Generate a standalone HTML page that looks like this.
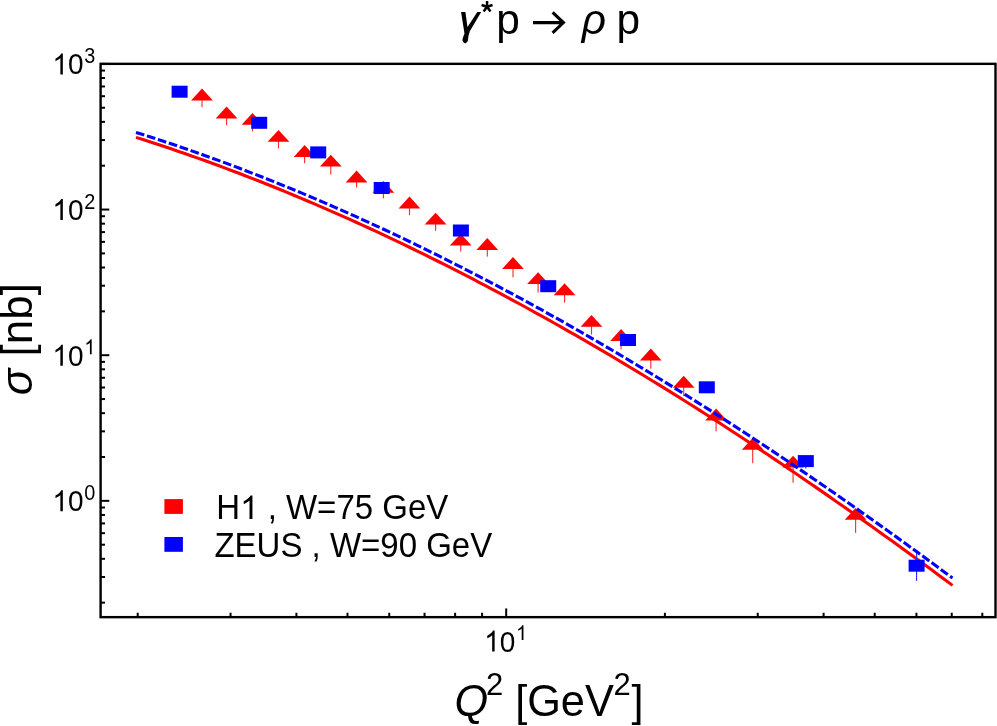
<!DOCTYPE html>
<html><head><meta charset="utf-8"><title>gamma* p -> rho p</title>
<style>html,body{margin:0;padding:0;background:#fff;}body{width:997px;height:726px;overflow:hidden;font-family:"Liberation Sans",sans-serif;}svg{display:block;will-change:transform}text{white-space:pre}</style>
</head><body>
<svg width="997" height="726" viewBox="0 0 997 726">
<rect width="997" height="726" fill="#fff"/>
<g fill="#ff0000" stroke="none">
<rect x="201.42" y="99.40" width="1.15" height="7.70" fill="#ff3030"/>
<path d="M202.00 88.50L212.90 100.40H191.10Z"/>
<rect x="226.02" y="117.50" width="1.15" height="7.70" fill="#ff3030"/>
<path d="M226.60 106.60L237.50 118.50H215.70Z"/>
<rect x="251.92" y="123.80" width="1.15" height="7.70" fill="#ff3030"/>
<path d="M252.50 112.90L263.40 124.80H241.60Z"/>
<rect x="277.92" y="140.80" width="1.15" height="7.70" fill="#ff3030"/>
<path d="M278.50 129.90L289.40 141.80H267.60Z"/>
<rect x="304.02" y="155.90" width="1.15" height="7.40" fill="#ff3030"/>
<path d="M304.60 145.00L315.50 156.90H293.70Z"/>
<rect x="330.22" y="165.60" width="1.15" height="8.90" fill="#ff3030"/>
<path d="M330.80 154.70L341.70 166.60H319.90Z"/>
<rect x="356.02" y="181.40" width="1.15" height="6.20" fill="#ff3030"/>
<path d="M356.60 170.50L367.50 182.40H345.70Z"/>
<rect x="382.82" y="191.80" width="1.15" height="6.60" fill="#ff3030"/>
<path d="M383.40 180.90L394.30 192.80H372.50Z"/>
<rect x="408.92" y="207.50" width="1.15" height="7.70" fill="#ff3030"/>
<path d="M409.50 196.60L420.40 208.50H398.60Z"/>
<rect x="435.02" y="223.60" width="1.15" height="7.20" fill="#ff3030"/>
<path d="M435.60 212.70L446.50 224.60H424.70Z"/>
<rect x="460.12" y="244.60" width="1.15" height="7.00" fill="#ff3030"/>
<path d="M460.70 233.70L471.60 245.60H449.80Z"/>
<rect x="486.72" y="248.90" width="1.15" height="7.70" fill="#ff3030"/>
<path d="M487.30 238.00L498.20 249.90H476.40Z"/>
<rect x="512.42" y="267.90" width="1.15" height="9.40" fill="#ff3030"/>
<path d="M513.00 257.00L523.90 268.90H502.10Z"/>
<rect x="537.52" y="283.10" width="1.15" height="9.40" fill="#ff3030"/>
<path d="M538.10 272.20L549.00 284.10H527.20Z"/>
<rect x="564.02" y="294.20" width="1.15" height="8.40" fill="#ff3030"/>
<path d="M564.60 283.30L575.50 295.20H553.70Z"/>
<rect x="590.92" y="325.80" width="1.15" height="8.70" fill="#ff3030"/>
<path d="M591.50 314.90L602.40 326.80H580.60Z"/>
<rect x="620.52" y="340.00" width="1.15" height="9.40" fill="#ff3030"/>
<path d="M621.10 329.10L632.00 341.00H610.20Z"/>
<rect x="650.22" y="359.50" width="1.15" height="9.20" fill="#ff3030"/>
<path d="M650.80 348.60L661.70 360.50H639.90Z"/>
<rect x="683.12" y="386.70" width="1.15" height="9.50" fill="#ff3030"/>
<path d="M683.70 375.80L694.60 387.70H672.80Z"/>
<rect x="715.52" y="419.40" width="1.15" height="12.00" fill="#ff3030"/>
<path d="M716.10 408.50L727.00 420.40H705.20Z"/>
<rect x="752.12" y="448.80" width="1.15" height="14.40" fill="#ff3030"/>
<path d="M752.70 437.90L763.60 449.80H741.80Z"/>
<rect x="792.52" y="466.60" width="1.15" height="16.20" fill="#ff3030"/>
<path d="M793.10 455.70L804.00 467.60H782.20Z"/>
<rect x="855.02" y="518.80" width="1.15" height="14.10" fill="#ff3030"/>
<path d="M855.60 507.90L866.50 519.80H844.70Z"/>
</g>
<path d="M136.00 137.36L142.86 139.54L149.72 141.76L156.58 144.00L163.45 146.28L170.31 148.58L177.17 150.92L184.03 153.29L190.89 155.69L197.75 158.11L204.61 160.57L211.47 163.06L218.34 165.58L225.20 168.12L232.06 170.70L238.92 173.31L245.78 175.94L252.64 178.61L259.50 181.30L266.37 184.02L273.23 186.77L280.09 189.55L286.95 192.36L293.81 195.20L300.67 198.07L307.53 200.96L314.39 203.89L321.26 206.84L328.12 209.82L334.98 212.83L341.84 215.86L348.70 218.93L355.56 222.02L362.42 225.14L369.29 228.28L376.15 231.46L383.01 234.66L389.87 237.89L396.73 241.14L403.59 244.42L410.45 247.73L417.32 251.07L424.18 254.43L431.04 257.82L437.90 261.24L444.76 264.68L451.62 268.15L458.48 271.64L465.34 275.16L472.21 278.71L479.07 282.28L485.93 285.88L492.79 289.51L499.65 293.16L506.51 296.83L513.37 300.53L520.24 304.26L527.10 308.01L533.96 311.78L540.82 315.58L547.68 319.41L554.54 323.26L561.40 327.14L568.26 331.04L575.13 334.96L581.99 338.91L588.85 342.88L595.71 346.88L602.57 350.90L609.43 354.94L616.29 359.01L623.16 363.10L630.02 367.22L636.88 371.36L643.74 375.52L650.60 379.71L657.46 383.91L664.32 388.15L671.18 392.40L678.05 396.68L684.91 400.98L691.77 405.30L698.63 409.65L705.49 414.02L712.35 418.41L719.21 422.82L726.08 427.26L732.94 431.71L739.80 436.19L746.66 440.69L753.52 445.22L760.38 449.76L767.24 454.33L774.11 458.91L780.97 463.52L787.83 468.15L794.69 472.80L801.55 477.48L808.41 482.17L815.27 486.88L822.13 491.62L829.00 496.37L835.86 501.15L842.72 505.94L849.58 510.76L856.44 515.60L863.30 520.45L870.16 525.33L877.03 530.23L883.89 535.14L890.75 540.08L897.61 545.03L904.47 550.01L911.33 555.00L918.19 560.02L925.05 565.05L931.92 570.10L938.78 575.17L945.64 580.26L952.50 585.37" fill="none" stroke="#ff0000" stroke-width="3.1"/>
<g fill="#0000ff">
<rect x="805.2" y="466" width="1.15" height="2.6" fill="#3030ff"/>
<rect x="916.0" y="552.7" width="1.15" height="28.2" fill="#3030ff"/>
<rect x="171.60" y="85.70" width="16.0" height="12.0"/>
<rect x="251.20" y="116.80" width="16.0" height="12.0"/>
<rect x="310.20" y="146.40" width="16.0" height="12.0"/>
<rect x="373.70" y="182.00" width="16.0" height="12.0"/>
<rect x="452.90" y="224.50" width="16.0" height="12.0"/>
<rect x="540.20" y="280.20" width="16.0" height="12.0"/>
<rect x="620.00" y="334.00" width="16.0" height="12.0"/>
<rect x="698.80" y="381.30" width="16.0" height="12.0"/>
<rect x="797.80" y="455.10" width="16.0" height="12.0"/>
<rect x="908.60" y="559.70" width="16.0" height="12.0"/>
</g>
<path d="M136.00 132.42L142.86 134.58L149.72 136.78L156.58 139.00L163.45 141.26L170.31 143.54L177.17 145.86L184.03 148.21L190.89 150.59L197.75 152.99L204.61 155.43L211.47 157.90L218.34 160.40L225.20 162.92L232.06 165.48L238.92 168.07L245.78 170.68L252.64 173.33L259.50 176.00L266.37 178.70L273.23 181.43L280.09 184.19L286.95 186.98L293.81 189.80L300.67 192.65L307.53 195.52L314.39 198.43L321.26 201.36L328.12 204.32L334.98 207.31L341.84 210.32L348.70 213.37L355.56 216.44L362.42 219.54L369.29 222.66L376.15 225.82L383.01 229.00L389.87 232.21L396.73 235.44L403.59 238.70L410.45 241.99L417.32 245.31L424.18 248.65L431.04 252.02L437.90 255.42L444.76 258.84L451.62 262.29L458.48 265.76L465.34 269.27L472.21 272.79L479.07 276.34L485.93 279.92L492.79 283.53L499.65 287.16L506.51 290.81L513.37 294.49L520.24 298.20L527.10 301.93L533.96 305.69L540.82 309.47L547.68 313.27L554.54 317.10L561.40 320.96L568.26 324.84L575.13 328.74L581.99 332.67L588.85 336.62L595.71 340.60L602.57 344.60L609.43 348.62L616.29 352.67L623.16 356.74L630.02 360.84L636.88 364.96L643.74 369.10L650.60 373.27L657.46 377.46L664.32 381.67L671.18 385.90L678.05 390.16L684.91 394.44L691.77 398.75L698.63 403.07L705.49 407.42L712.35 411.79L719.21 416.18L726.08 420.60L732.94 425.04L739.80 429.50L746.66 433.98L753.52 438.48L760.38 443.00L767.24 447.55L774.11 452.12L780.97 456.71L787.83 461.32L794.69 465.95L801.55 470.60L808.41 475.27L815.27 479.97L822.13 484.68L829.00 489.42L835.86 494.17L842.72 498.95L849.58 503.74L856.44 508.56L863.30 513.40L870.16 518.25L877.03 523.13L883.89 528.03L890.75 532.94L897.61 537.88L904.47 542.83L911.33 547.81L918.19 552.80L925.05 557.81L931.92 562.85L938.78 567.90L945.64 572.97L952.50 578.05" fill="none" stroke="#0000ff" stroke-width="3.1" stroke-dasharray="8.7 2.8"/>
<g stroke="#000" fill="none">
<rect x="100.6" y="63.85" width="894.9" height="553.3" stroke-width="2.4"/>
<g stroke-width="2.0">
<path d="M100.6 602.65h4.4"/>
<path d="M100.6 577.01h4.4"/>
<path d="M100.6 558.81h4.4"/>
<path d="M100.6 544.70h4.4"/>
<path d="M100.6 533.16h4.4"/>
<path d="M100.6 523.41h4.4"/>
<path d="M100.6 514.96h4.4"/>
<path d="M100.6 507.51h4.4"/>
<path d="M100.6 500.85h8.7"/>
<path d="M100.6 457.00h4.4"/>
<path d="M100.6 431.36h4.4"/>
<path d="M100.6 413.16h4.4"/>
<path d="M100.6 399.05h4.4"/>
<path d="M100.6 387.51h4.4"/>
<path d="M100.6 377.76h4.4"/>
<path d="M100.6 369.31h4.4"/>
<path d="M100.6 361.86h4.4"/>
<path d="M100.6 355.20h8.7"/>
<path d="M100.6 311.35h4.4"/>
<path d="M100.6 285.71h4.4"/>
<path d="M100.6 267.51h4.4"/>
<path d="M100.6 253.40h4.4"/>
<path d="M100.6 241.86h4.4"/>
<path d="M100.6 232.11h4.4"/>
<path d="M100.6 223.66h4.4"/>
<path d="M100.6 216.21h4.4"/>
<path d="M100.6 209.55h8.7"/>
<path d="M100.6 165.70h4.4"/>
<path d="M100.6 140.06h4.4"/>
<path d="M100.6 121.86h4.4"/>
<path d="M100.6 107.75h4.4"/>
<path d="M100.6 96.21h4.4"/>
<path d="M100.6 86.46h4.4"/>
<path d="M100.6 78.01h4.4"/>
<path d="M100.6 70.56h4.4"/>
<path d="M100.6 63.90h8.7"/>
<path d="M137.70 617.15v-4.4"/>
<path d="M230.54 617.15v-4.4"/>
<path d="M296.41 617.15v-4.4"/>
<path d="M347.50 617.15v-4.4"/>
<path d="M389.24 617.15v-4.4"/>
<path d="M424.54 617.15v-4.4"/>
<path d="M455.11 617.15v-4.4"/>
<path d="M482.08 617.15v-4.4"/>
<path d="M506.20 617.15v-8.7"/>
<path d="M664.90 617.15v-4.4"/>
<path d="M757.74 617.15v-4.4"/>
<path d="M823.61 617.15v-4.4"/>
<path d="M874.70 617.15v-4.4"/>
<path d="M916.44 617.15v-4.4"/>
<path d="M951.74 617.15v-4.4"/>
<path d="M982.31 617.15v-4.4"/>
</g></g>
<g font-family="Liberation Sans, sans-serif" fill="#000">
<path transform="translate(52.40 74.40) scale(0.01367 -0.01426)" d="M763 0L583 0L583 1147Q518 1085 412.5 1023Q307 961 223 930L223 1104Q374 1175 487 1276Q600 1377 647 1472L763 1472Z"/>
<text transform="translate(67.97 74.40) scale(1 1.085)" font-size="28" >0</text>
<text transform="translate(84.24 63.00) scale(1 1.085)" font-size="19.9" >3</text>
<path transform="translate(52.40 220.05) scale(0.01367 -0.01426)" d="M763 0L583 0L583 1147Q518 1085 412.5 1023Q307 961 223 930L223 1104Q374 1175 487 1276Q600 1377 647 1472L763 1472Z"/>
<text transform="translate(67.97 220.05) scale(1 1.085)" font-size="28" >0</text>
<text transform="translate(84.24 208.65) scale(1 1.085)" font-size="19.9" >2</text>
<path transform="translate(52.40 365.70) scale(0.01367 -0.01426)" d="M763 0L583 0L583 1147Q518 1085 412.5 1023Q307 961 223 930L223 1104Q374 1175 487 1276Q600 1377 647 1472L763 1472Z"/>
<text transform="translate(67.97 365.70) scale(1 1.085)" font-size="28" >0</text>
<path transform="translate(84.24 354.30) scale(0.00972 -0.01014)" d="M763 0L583 0L583 1147Q518 1085 412.5 1023Q307 961 223 930L223 1104Q374 1175 487 1276Q600 1377 647 1472L763 1472Z"/>
<path transform="translate(52.40 511.35) scale(0.01367 -0.01426)" d="M763 0L583 0L583 1147Q518 1085 412.5 1023Q307 961 223 930L223 1104Q374 1175 487 1276Q600 1377 647 1472L763 1472Z"/>
<text transform="translate(67.97 511.35) scale(1 1.085)" font-size="28" >0</text>
<text transform="translate(84.24 499.95) scale(1 1.085)" font-size="19.9" >0</text>
<path transform="translate(484.20 651.50) scale(0.01367 -0.01426)" d="M763 0L583 0L583 1147Q518 1085 412.5 1023Q307 961 223 930L223 1104Q374 1175 487 1276Q600 1377 647 1472L763 1472Z"/>
<text transform="translate(499.77 651.50) scale(1 1.085)" font-size="28" >0</text>
<path transform="translate(516.04 640.10) scale(0.00972 -0.01014)" d="M763 0L583 0L583 1147Q518 1085 412.5 1023Q307 961 223 930L223 1104Q374 1175 487 1276Q600 1377 647 1472L763 1472Z"/>
<text transform="translate(454.50 715.50) scale(1 1.04)" font-size="43.3" font-style="italic">Q</text>
<text transform="translate(486.00 695.00) scale(1 1.04)" font-size="31" >2</text>
<text transform="translate(503.10 715.50) scale(1 1.04)" font-size="43.3" > [GeV</text>
<text transform="translate(613.60 695.00) scale(1 1.04)" font-size="31" >2</text>
<text transform="translate(631.60 715.50) scale(1 1.04)" font-size="43.3" >]</text>
<text transform="translate(32.3 395.2) rotate(-90) scale(1 1.0)" font-size="44"><tspan font-style="italic">σ</tspan> [nb]</text>
<path d="M461.06 12.06 L465.41 12.06 L467.47 27.02 L477.33 12.06 L481.19 12.06 L469.82 31.15 L468.51 35.84 L467.96 40.32 Q467.41 43.07 465.20 43.56 Q462.72 43.07 462.44 40.32 Q462.44 38.25 464.51 33.43 Z"/>
<path d="M487.05 6.75L487.05 1.00M487.05 6.75L492.52 4.97M487.05 6.75L490.43 11.40M487.05 6.75L483.67 11.40M487.05 6.75L481.58 4.97" fill="none" stroke="#000" stroke-width="2.5"/>
<text transform="translate(496.20 34.00) scale(1 1)" font-size="42.4" >p</text>
<path d="M533 22.6H563.2M552.6 12.3L563.4 22.6L552.6 32.9" fill="none" stroke="#000" stroke-width="3.1" stroke-linejoin="miter"/>
<text transform="translate(581.70 34.00) scale(1 1)" font-size="42.4" font-style="italic">ρ</text>
<text transform="translate(616.60 34.00) scale(1 1)" font-size="42.4" >p</text>
<rect x="164.4" y="499.1" width="18.5" height="14.8" fill="#ff0000"/>
<rect x="164.4" y="537.0" width="18.5" height="14.8" fill="#0000ff"/>
<text transform="translate(216.30 519.10) scale(1 1.04)" font-size="33" >H</text>
<path transform="translate(240.13 519.10) scale(0.01611 -0.01611)" d="M763 0L583 0L583 1147Q518 1085 412.5 1023Q307 961 223 930L223 1104Q374 1175 487 1276Q600 1377 647 1472L763 1472Z"/>
<text transform="translate(258.48 519.10) scale(1 1.04)" font-size="33" > , W=75 GeV</text>
<text transform="translate(214.40 557.00) scale(1 1.04)" font-size="33" >ZEUS , W=90 GeV</text>
</g>
</svg>
</body></html>
